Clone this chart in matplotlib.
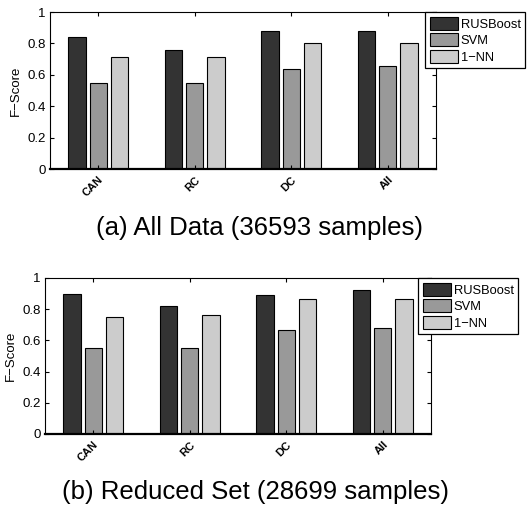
import matplotlib
matplotlib.use("Agg")
import matplotlib.pyplot as plt
import numpy as np

plt.rcParams["font.family"] = ["Liberation Sans", "DejaVu Sans"]

categories = ["CAN", "RC", "DC", "All"]
methods = ["RUSBoost", "SVM", "1\u2212NN"]
colors = ["#333333", "#999999", "#cccccc"]

# panel (a): all data
all_rusboost = [0.840, 0.755, 0.881, 0.881]
all_svm = [0.545, 0.547, 0.638, 0.655]
all_1nn = [0.715, 0.715, 0.802, 0.802]

# panel (b): reduced set
red_rusboost = [0.897, 0.823, 0.893, 0.921]
red_svm = [0.551, 0.549, 0.665, 0.679]
red_1nn = [0.750, 0.761, 0.865, 0.863]

captions = ["(a) All Data (36593 samples)", "(b) Reduced Set (28699 samples)"]
yticks = [0, 0.2, 0.4, 0.6, 0.8, 1]

W, H = 528, 508
fig = plt.figure(figsize=(W / 100, H / 100), dpi=100)


def px_axes(left, top, right, bottom):
    return fig.add_axes([left / W, 1 - bottom / H, (right - left) / W, (bottom - top) / H])


def draw_panel(ax, series, caption, legend_x, cap_x, cap_y):
    x = np.arange(1, len(categories) + 1)
    offsets = [-0.222, 0.0, 0.222]
    for vals, off, col, name in zip(series, offsets, colors, methods):
        ax.bar(x + off, vals, width=0.18, color=col, edgecolor="black",
               linewidth=0.8, label=name)
    ax.set_xlim(0.5, 4.5)
    ax.set_ylim(0, 1)
    ax.set_yticks(yticks)
    ax.set_yticklabels(["0", "0.2", "0.4", "0.6", "0.8", "1"], fontsize=9.5)
    ax.set_xticks(x)
    ax.set_xticklabels(categories, fontsize=8, fontweight="bold", rotation=45,
                       ha="right", va="top", rotation_mode="anchor")
    ax.tick_params(direction="in", length=3, width=0.8, top=True, right=True, pad=3)
    ax.tick_params(axis="x", pad=4)
    ax.set_ylabel("F\u2212Score", fontsize=9.5, labelpad=4)
    for side in ["top", "right", "left"]:
        ax.spines[side].set_linewidth(0.8)
    ax.spines["bottom"].set_linewidth(1.6)
    leg = ax.legend(loc="upper left", bbox_to_anchor=(legend_x / W, ax.get_position().y1),
                    bbox_transform=fig.transFigure, fontsize=9.3, fancybox=False,
                    framealpha=1, edgecolor="black", borderpad=0.35, labelspacing=0.2,
                    handlelength=2.2, handleheight=1.2, handletextpad=0.2,
                    borderaxespad=0)
    leg.get_frame().set_linewidth(0.9)
    fig.text(cap_x / W, 1 - cap_y / H, caption, ha="center", va="center", fontsize=18.5)


ax_a = px_axes(50, 12, 436, 169)
draw_panel(ax_a, [all_rusboost, all_svm, all_1nn], captions[0], 425, 260, 228)

ax_b = px_axes(45, 278, 431, 434)
draw_panel(ax_b, [red_rusboost, red_svm, red_1nn], captions[1], 418, 256, 492)

fig.savefig("out.png", dpi=100)
